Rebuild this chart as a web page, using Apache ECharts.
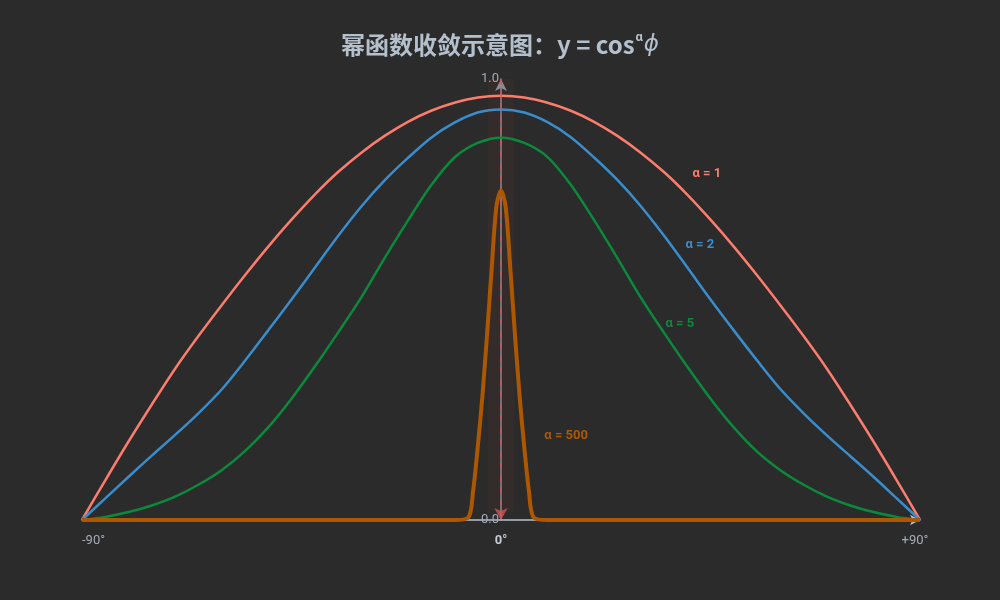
<html>
<head>
    <meta charset="utf-8">
    <title>ECharts</title>
    <script src="https://cdn.jsdelivr.net/npm/echarts@6/dist/echarts.min.js"></script>
</head>
<body style="margin:0;background:#2b2b2b;">
    <div id="main" style="width: 1000px;height:600px;"></div>
    <script type="text/javascript">
        // 角度（度）与各曲线读数，每 5° 一个点
        const angles = [-90, -85, -80, -75, -70, -65, -60, -55, -50, -45, -40, -35, -30, -25, -20, -15, -10, -5, 0,
                        5, 10, 15, 20, 25, 30, 35, 40, 45, 50, 55, 60, 65, 70, 75, 80, 85, 90];
        const alpha1 = [0, 0.090, 0.178, 0.262, 0.343, 0.417, 0.487, 0.555, 0.620, 0.681, 0.738, 0.789, 0.833, 0.871, 0.903, 0.928, 0.946, 0.958, 0.962,
                        0.958, 0.946, 0.928, 0.903, 0.871, 0.833, 0.789, 0.738, 0.681, 0.620, 0.555, 0.487, 0.417, 0.343, 0.262, 0.178, 0.090, 0];
        const alpha2 = [0, 0.049, 0.098, 0.146, 0.193, 0.242, 0.296, 0.361, 0.430, 0.500, 0.572, 0.644, 0.711, 0.770, 0.821, 0.867, 0.901, 0.924, 0.931,
                        0.924, 0.902, 0.868, 0.822, 0.771, 0.712, 0.645, 0.573, 0.500, 0.430, 0.362, 0.297, 0.242, 0.192, 0.145, 0.098, 0.049, 0];
        const alpha5 = [0, 0.007, 0.018, 0.033, 0.053, 0.080, 0.113, 0.156, 0.210, 0.275, 0.348, 0.425, 0.505, 0.594, 0.679, 0.759, 0.822, 0.855, 0.867,
                        0.855, 0.823, 0.760, 0.680, 0.594, 0.505, 0.425, 0.348, 0.275, 0.210, 0.155, 0.113, 0.080, 0.053, 0.033, 0.018, 0.007, 0];
        // α = 500 的尖峰需要更密的采样
        const anglesFine = [-90, -80, -70, -60, -50, -40, -30, -20, -10, -7, -6, -5, -4, -3, -2, -1, 0, 1, 2, 3, 4, 5, 6, 7, 10, 20, 30, 40, 50, 60, 70, 80, 90];
        const alpha500 = [0, 0, 0, 0, 0, 0, 0, 0, 0, 0.006, 0.065, 0.165, 0.28, 0.42, 0.57, 0.71, 0.747, 0.71, 0.57, 0.42, 0.28, 0.165, 0.065, 0.006, 0, 0, 0, 0, 0, 0, 0, 0, 0];

        const seriesNames = ['α = 1', 'α = 2', 'α = 5', 'α = 500'];
        const seriesColors = ['#fc7c6d', '#3a8dcc', '#0b8a3b', '#ad5800'];
        // 曲线旁标签的位置（角度, 值）
        const labelAngle = [44.2, 42.7, 38.4, 14.0];
        const labelValue = [0.785, 0.624, 0.446, 0.190];
        const axisTicks = [-90, 0, 90];

        var myChart = echarts.init(document.getElementById('main'));

        function zip(xs, ys) {
            return xs.map(function (x, i) { return [x, ys[i]]; });
        }
        const curves = [zip(angles, alpha1), zip(angles, alpha2), zip(angles, alpha5), zip(anglesFine, alpha500)];
        const widths = [2.5, 2.5, 2.5, 4];

        let series = curves.map(function (d, i) {
            return {
                name: seriesNames[i],
                type: 'line',
                data: d,
                smooth: 0.3,
                symbol: 'none',
                z: 3 + i,
                lineStyle: { color: seriesColors[i], width: widths[i] },
                markPoint: {
                    symbol: 'circle',
                    symbolSize: 0,
                    silent: true,
                    label: {
                        show: true,
                        position: 'inside',
                        formatter: seriesNames[i],
                        color: seriesColors[i],
                        fontSize: 13,
                        fontWeight: 'bold',
                        fontFamily: 'Roboto'
                    },
                    data: [{ coord: [labelAngle[i], labelValue[i]] }]
                }
            };
        });

        // 中心的收敛带和虚线箭头
        series.unshift({
            type: 'line',
            data: [[axisTicks[1], 1], [axisTicks[1], 0.02]],
            symbol: 'none',
            silent: true,
            z: 1,
            lineStyle: { color: 'rgba(190,60,60,0.07)', width: 26, cap: 'butt' },
            markLine: {
                silent: true,
                symbol: ['none', 'arrow'],
                symbolSize: [10, 12],
                label: { show: false },
                lineStyle: { color: 'rgba(210,85,85,0.8)', type: [6, 6], width: 1.5 },
                data: [[{ coord: [axisTicks[1], 1] }, { coord: [axisTicks[1], 0] }]]
            }
        });

        let option = {
            backgroundColor: '#2b2b2b',
            animation: false,
            title: {
                text: '{a|幂函数收敛示意图：y = cos}{s|α}{p|ϕ}',
                left: 'center',
                top: 24,
                textStyle: {
                    rich: {
                        a: { fontSize: 24, fontWeight: 'bold', color: '#b5c0cd', fontFamily: 'Noto Sans CJK SC', lineHeight: 32 },
                        s: { fontSize: 13, fontWeight: 'bold', color: '#b5c0cd', fontFamily: 'Roboto', lineHeight: 32, padding: [0, 1, 15, 1] },
                        p: { fontSize: 23, fontStyle: 'italic', fontWeight: 'normal', color: '#b5c0cd', fontFamily: 'DejaVu Sans', lineHeight: 32 }
                    }
                }
            },
            grid: { left: 82, right: 80, top: 79, bottom: 80 },
            xAxis: {
                type: 'value',
                min: -90,
                max: 90,
                interval: 90,
                splitLine: { show: false },
                axisTick: { show: false },
                axisLine: {
                    lineStyle: { color: '#b9c1cc', width: 1.5 },
                    symbol: ['none', 'arrow'],
                    symbolSize: [8, 10]
                },
                axisLabel: {
                    margin: 14,
                    fontSize: 13,
                    color: '#a3acb7',
                    fontFamily: 'Roboto',
                    alignMinLabel: 'left',
                    formatter: function (v) {
                        if (v === 0) return '{z|0°}';
                        if (v > 0) return '{m|+' + v + '°}';
                        return v + '°';
                    },
                    rich: {
                        z: { fontWeight: 'bold', color: '#c3cbd6', fontSize: 13, fontFamily: 'Roboto' },
                        m: { color: '#a3acb7', fontSize: 13, fontFamily: 'Roboto', padding: [0, 10, 0, 0] }
                    }
                }
            },
            yAxis: {
                type: 'value',
                min: 0,
                max: 1,
                interval: 1,
                offset: -419,
                splitLine: { show: false },
                axisTick: { show: false },
                axisLine: {
                    onZero: false,
                    lineStyle: { color: '#8b9099', width: 1.5 },
                    symbol: ['none', 'arrow'],
                    symbolSize: [9, 12]
                },
                axisLabel: {
                    margin: 2,
                    fontSize: 13,
                    color: '#a3abb6',
                    fontFamily: 'Roboto',
                    formatter: function (v) { return v.toFixed(1); }
                }
            },
            series: series
        };

        myChart.setOption(option);
    </script>
</body>
</html>
